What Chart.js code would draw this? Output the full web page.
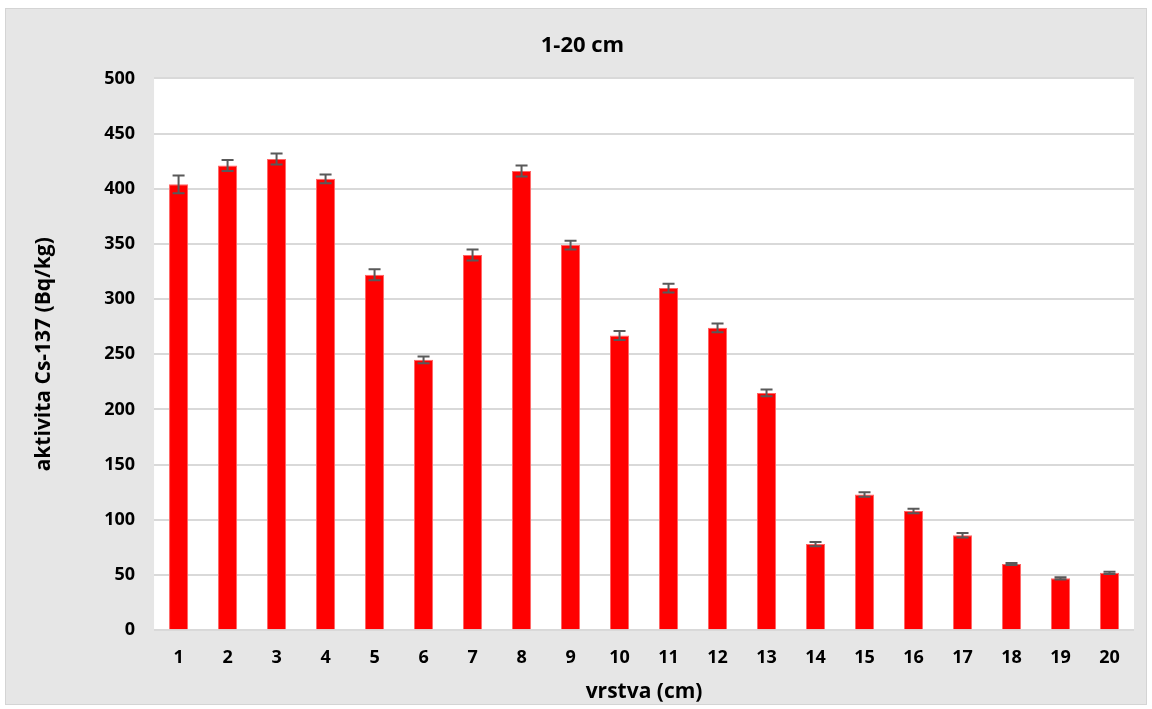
<!DOCTYPE html>
<html>
<head>
<meta charset="utf-8">
<script src="https://cdn.jsdelivr.net/npm/chart.js@4.4.1/dist/chart.umd.min.js"></script>
<style>
  body { margin: 0; background: #ffffff; }
  #wrap { position: absolute; left: 0; top: 0; width: 1152px; height: 709px; }
</style>
</head>
<body>
<div id="wrap"><canvas id="myChart" width="1152" height="709"></canvas></div>
<script>
var layers = ['1', '2', '3', '4', '5', '6', '7', '8', '9', '10', '11', '12', '13', '14', '15', '16', '17', '18', '19', '20'];
var activity = [404, 421, 427, 409, 322, 245, 340, 416, 349, 267, 310, 274, 215, 78, 123, 108, 86, 60, 47, 52];
var errors = [8, 5, 5, 4, 5, 3, 5, 5, 4, 4, 4, 4, 3, 2, 2, 2, 2, 1, 1, 1];

var fontName = '"Open Sans", "Liberation Sans", sans-serif';

// grey frame + white plot area
var frameBg = {
  id: 'frameBg',
  beforeDraw: function (chart) {
    var ctx = chart.ctx;
    var a = chart.chartArea;
    ctx.save();
    ctx.fillStyle = '#e6e6e6';
    ctx.fillRect(5, 8, 1142, 697);
    ctx.strokeStyle = '#d4d4d4';
    ctx.lineWidth = 1;
    ctx.strokeRect(5.5, 8.5, 1141, 696);
    ctx.fillStyle = '#ffffff';
    ctx.fillRect(a.left, a.top, a.right - a.left, a.bottom - a.top);
    ctx.restore();
  }
};

// error bars drawn from the y scale
var errorBars = {
  id: 'errorBars',
  afterDatasetsDraw: function (chart) {
    var ctx = chart.ctx;
    var meta = chart.getDatasetMeta(0);
    var y = chart.scales.y;
    ctx.save();
    ctx.strokeStyle = '#595959';
    ctx.lineWidth = 2;
    for (var i = 0; i < meta.data.length; i++) {
      var x = meta.data[i].x;
      var top = y.getPixelForValue(activity[i] + errors[i]);
      var bot = y.getPixelForValue(activity[i] - errors[i]);
      ctx.beginPath();
      ctx.moveTo(x, top); ctx.lineTo(x, bot);
      ctx.moveTo(x - 6, top); ctx.lineTo(x + 6, top);
      ctx.moveTo(x - 6, bot); ctx.lineTo(x + 6, bot);
      ctx.stroke();
    }
    ctx.restore();
  }
};

var ctx = document.getElementById('myChart').getContext('2d');
var myChart = new Chart(ctx, {
  type: 'bar',
  data: {
    labels: layers,
    datasets: [{
      label: 'aktivita',
      data: activity,
      backgroundColor: '#ff0000',
      borderColor: '#ff6666',
      borderWidth: 1,
      barPercentage: 0.39,
      categoryPercentage: 1.0
    }]
  },
  options: {
    responsive: false,
    animation: false,
    layout: { padding: { left: 31, right: 18, top: 33, bottom: 4 } },
    plugins: {
      legend: { display: false },
      tooltip: { enabled: false },
      title: {
        display: true,
        text: '1-20 cm',
        color: '#000000',
        font: { family: fontName, size: 22, weight: 'bold' },
        padding: { top: 0, bottom: 19 }
      }
    },
    scales: {
      x: {
        grid: { display: false, drawTicks: false },
        border: { display: false },
        ticks: { color: '#000000', font: { family: fontName, size: 18, weight: 'bold' }, padding: 17 },
        title: {
          display: true,
          text: 'vrstva (cm)',
          color: '#000000',
          font: { family: fontName, size: 21, weight: 'bold' },
          padding: { top: -6, bottom: 0 }
        }
      },
      y: {
        min: 0,
        max: 500,
        ticks: { stepSize: 50, color: '#000000', font: { family: fontName, size: 18, weight: 'bold' }, padding: 19 },
        grid: { color: '#d9d9d9', lineWidth: 2, drawTicks: false },
        border: { display: false },
        title: {
          display: true,
          text: 'aktivita Cs-137 (Bq/kg)',
          color: '#000000',
          font: { family: fontName, size: 21, weight: 'bold' },
          padding: { top: 0, bottom: 29 }
        }
      }
    }
  },
  plugins: [frameBg, errorBars]
});
</script>
</body>
</html>
